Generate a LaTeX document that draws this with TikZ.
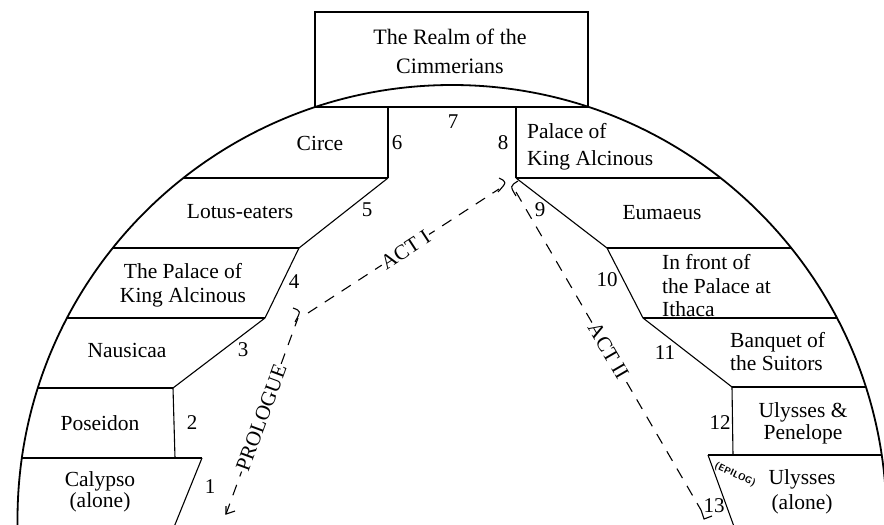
\documentclass[tikz,border=0pt]{standalone}
\usepackage{fontspec}
\setmainfont{Liberation Serif}
\begin{document}
\begin{tikzpicture}[x=1pt,y=-1pt,
  wall/.style={line width=1.1pt},
  rim/.style={line width=1.8pt},
  act/.style={line width=1.1pt, dash pattern=on 11pt off 9pt},
  tick/.style={line width=1.1pt},
  lbl/.style={font=\fontsize{21.5}{24}\selectfont, inner sep=0pt, align=center},
  lbll/.style={font=\fontsize{21.5}{24}\selectfont, inner sep=0pt, align=left, anchor=west},
  num/.style={font=\fontsize{21}{24}\selectfont, inner sep=0pt},
  actlbl/.style={font=\fontsize{21}{24}\selectfont, fill=white, inner sep=1pt, sloped},
]
\useasboundingbox (0,0) rectangle (884,525);
\clip (0,0) rectangle (884,525);

% outer rim
\draw[rim] (452,519.5) circle (434.5pt);

% top box
\draw[wall] (315,12) rectangle (588,107);
\node[lbl, font=\fontsize{22}{29}\selectfont] (realm) at (450,51) {The Realm of the\\Cimmerians};

% corner coordinates
\coordinate (c6t) at (388,107);
\coordinate (c6) at (388,178);
\coordinate (c5) at (299,248);
\coordinate (c4) at (265,318);
\coordinate (c3) at (173,388);
\coordinate (c2) at (175,458);
\coordinate (c1t) at (202,458);
\coordinate (c1b) at (172,532);
\coordinate (c8t) at (516,107);
\coordinate (c8) at (516,178);
\coordinate (c9) at (607,248);
\coordinate (c10) at (643,318);
\coordinate (c11) at (732,387);
\coordinate (c12) at (733,455);
\coordinate (c13t) at (708,455);
\coordinate (c13b) at (736,532);
\coordinate (wl) at (0,0);
\coordinate (wr) at (884,0);

\begin{scope}
  \clip (452,519.5) circle (434.5pt);
  % left side
  \draw[wall] (c6t) -- (c6);
  \draw[wall] (c6) -- (c6 -| wl);
  \draw[wall] (c6) -- (c5);
  \draw[wall] (c5) -- (c5 -| wl);
  \draw[wall] (c5) -- (c4);
  \draw[wall] (c4) -- (c4 -| wl);
  \draw[wall] (c4) -- (c3);
  \draw[wall] (c3) -- (c3 -| wl);
  \draw[wall] (c3) -- (c2);
  \draw[wall] (c1t) -- (c1t -| wl);
  \draw[wall] (c1t) -- (c1b);
  % right side
  \draw[wall] (c8t) -- (c8);
  \draw[wall] (c8) -- (c8 -| wr);
  \draw[wall] (c8) -- (c9);
  \draw[wall] (c9) -- (c9 -| wr);
  \draw[wall] (c9) -- (c10);
  \draw[wall] (c10) -- (c10 -| wr);
  \draw[wall] (c10) -- (c11);
  \draw[wall] (c11) -- (c11 -| wr);
  \draw[wall] (c11) -- (c12);
  \draw[wall] (c13t) -- (c13t -| wr);
  \draw[wall] (c13t) -- (c13b);
\end{scope}

% region labels left
\node[lbl] (circe) at (320,143) {Circe};
\node[lbl] (lotus) at (240,212) {Lotus-eaters};
\node[lbl] (palace1) at (183,285) {The Palace of\\King Alcinous};
\node[lbl] (nausicaa) at (127,350) {Nausicaa};
\node[lbl] (poseidon) at (100,423) {Poseidon};
\node[lbl, font=\fontsize{21.5}{21}\selectfont] (calypso) at (100,492) {Calypso\\(alone)};

% region labels right
\node[lbll, font=\fontsize{21.5}{27}\selectfont] (palace2) at (527,147) {Palace of\\King Alcinous};
\node[lbl] (eumaeus) at (662,213) {Eumaeus};
\node[lbll, font=\fontsize{21.5}{23.5}\selectfont] (front) at (662,286) {In front of\\the Palace at\\Ithaca};
\node[lbll, font=\fontsize{21.5}{23}\selectfont] (banquet) at (730,352) {Banquet of\\the Suitors};
\node[lbl, font=\fontsize{21.5}{22}\selectfont] (ulpen) at (803,423) {Ulysses \&\\Penelope};
\node[lbl, font=\fontsize{21.5}{25}\selectfont] (ulalone) at (802,492) {Ulysses\\(alone)};
\node[font=\sffamily\bfseries\fontsize{9.5}{12}\selectfont, rotate=-25, inner sep=0pt] (epilog) at (735,475) {(EPILOG)};

% numbers
\node[num] (n1) at (210,487) {1};
\node[num] (n2) at (192,423) {2};
\node[num] (n3) at (243,350) {3};
\node[num] (n4) at (294,282) {4};
\node[num] (n5) at (367,210) {5};
\node[num] (n6) at (397,143) {6};
\node[num] (n7) at (453,122) {7};
\node[num] (n8) at (503,143) {8};
\node[num] (n9) at (540,210) {9};
\node[num] (n10) at (607,280) {10};
\node[num] (n11) at (665,353) {11};
\node[num] (n12) at (720,423) {12};
\node[num] (n13) at (714,506) {13};

% act lines
\coordinate (pa) at (226,514);
\coordinate (pb) at (298,318);
\coordinate (aa) at (308,313);
\coordinate (ab) at (499,189);
\coordinate (ta) at (516,192);
\coordinate (tb) at (701,510);

\draw[act] (pa) -- node[actlbl, pos=0.49] (prologue) {PROLOGUE} (pb);
\draw[act] (aa) -- node[actlbl, pos=0.51] (act1) {ACT I} (ab);
\draw[act] (ta) -- node[actlbl, pos=0.50] (act2) {ACT II} (tb);

% end marks
\draw[tick] (226,506) -- (pa) -- ++(9,-3);
\draw[tick] (293,308) .. controls (301,311) .. (295,322);
\draw[tick] (499,178) .. controls (507,182) .. (498,192);
\draw[tick] (518,181) .. controls (510,186) .. (516,196);
\draw[tick] (tb) -- (704,519) -- (712,516);
\end{tikzpicture}
\end{document}
